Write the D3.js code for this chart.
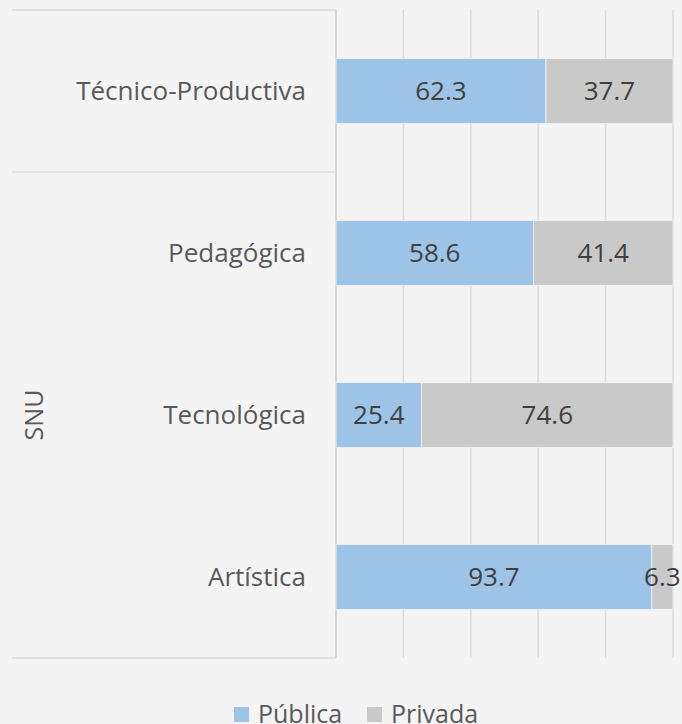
<!DOCTYPE html>
<html>
<head>
<meta charset="utf-8">
<script src="https://cdn.jsdelivr.net/npm/d3@7"></script>
<style>
  html, body { margin: 0; padding: 0; background: #f4f4f4; }
  svg { display: block; font-family: "Open Sans", sans-serif; }
</style>
</head>
<body>
<div id="chart"></div>
<script>
// Données
const categories = ["Técnico-Productiva", "Pedagógica", "Tecnológica", "Artística"];
const publica = [62.3, 58.6, 25.4, 93.7];
const privada = [37.7, 41.4, 74.6, 6.3];
const seriesNames = ["Pública", "Privada"];
const groupLabel = "SNU";
const xTicks = [0, 20, 40, 60, 80, 100];

const width = 682;
const height = 724;
const marginTop = 10;
const marginBottom = 66;
const plotLeft = 336;
const plotRight = 673;
const colors = ["#9dc3e6", "#c9c9c9"];

const svg = d3.select("#chart")
  .append("svg")
  .attr("width", width)
  .attr("height", height);

svg.append("rect")
  .attr("width", width)
  .attr("height", height)
  .attr("fill", "#f4f4f4");

const x = d3.scaleLinear().domain([0, 100]).range([plotLeft, plotRight]);
const y = d3.scaleBand()
  .domain(categories)
  .range([marginTop, height - marginBottom])
  .paddingInner(0.6)
  .paddingOuter(0.3);

// Quadrillage vertical
svg.append("g")
  .selectAll("line")
  .data(xTicks)
  .join("line")
  .attr("x1", d => x(d))
  .attr("x2", d => x(d))
  .attr("y1", marginTop)
  .attr("y2", height - marginBottom)
  .attr("stroke", d => d === 0 ? "#cfcfcf" : "#dcdcdc")
  .attr("stroke-width", 1.5);

// Lignes de séparation des catégories (axe à plusieurs niveaux)
const step = (height - marginBottom - marginTop) / categories.length;
const sepYs = [marginTop, marginTop + step, height - marginBottom];
svg.append("g")
  .selectAll("line")
  .data(sepYs)
  .join("line")
  .attr("x1", 12)
  .attr("x2", plotLeft)
  .attr("y1", d => d)
  .attr("y2", d => d)
  .attr("stroke", "#dcdcdc")
  .attr("stroke-width", 1.5);

// Empilement
const rows = categories.map((c, i) => ({ cat: c, "Pública": publica[i], "Privada": privada[i] }));
const stacked = d3.stack().keys(seriesNames)(rows);

const layers = svg.append("g")
  .selectAll("g")
  .data(stacked)
  .join("g")
  .attr("fill", (d, i) => colors[i]);

layers.selectAll("rect")
  .data(d => d)
  .join("rect")
  .attr("x", d => x(d[0]))
  .attr("y", d => y(d.data.cat))
  .attr("width", d => x(d[1]) - x(d[0]))
  .attr("height", y.bandwidth())
  .attr("stroke", "#f4f4f4")
  .attr("stroke-width", 0.8);

// Étiquettes de données
layers.selectAll("text")
  .data(d => d)
  .join("text")
  .attr("x", d => (x(d[0]) + x(d[1])) / 2)
  .attr("y", d => y(d.data.cat) + y.bandwidth() / 2)
  .attr("dy", "0.36em")
  .attr("text-anchor", "middle")
  .attr("fill", "#404040")
  .style("font-size", "26px")
  .text(d => (d[1] - d[0]).toFixed(1));

// Libellés des catégories
svg.append("g")
  .selectAll("text")
  .data(categories)
  .join("text")
  .attr("x", 306)
  .attr("y", d => y(d) + y.bandwidth() / 2)
  .attr("dy", "0.36em")
  .attr("text-anchor", "end")
  .attr("fill", "#595959")
  .style("font-size", "26px")
  .text(d => d);

// Libellé de groupe
svg.append("text")
  .attr("transform", `translate(43,${(marginTop + step + height - marginBottom) / 2}) rotate(-90)`)
  .attr("text-anchor", "middle")
  .attr("fill", "#595959")
  .style("font-size", "25px")
  .text(groupLabel);

// Légende
const legend = svg.append("g").attr("transform", "translate(234,707)");
const legendX = [0, 133];
seriesNames.forEach((name, i) => {
  legend.append("rect")
    .attr("x", legendX[i])
    .attr("y", 0)
    .attr("width", 15)
    .attr("height", 15)
    .attr("fill", colors[i]);
  legend.append("text")
    .attr("x", legendX[i] + 24)
    .attr("y", 16)
    .attr("fill", "#595959")
    .style("font-size", "25px")
    .text(name);
});
</script>
</body>
</html>
